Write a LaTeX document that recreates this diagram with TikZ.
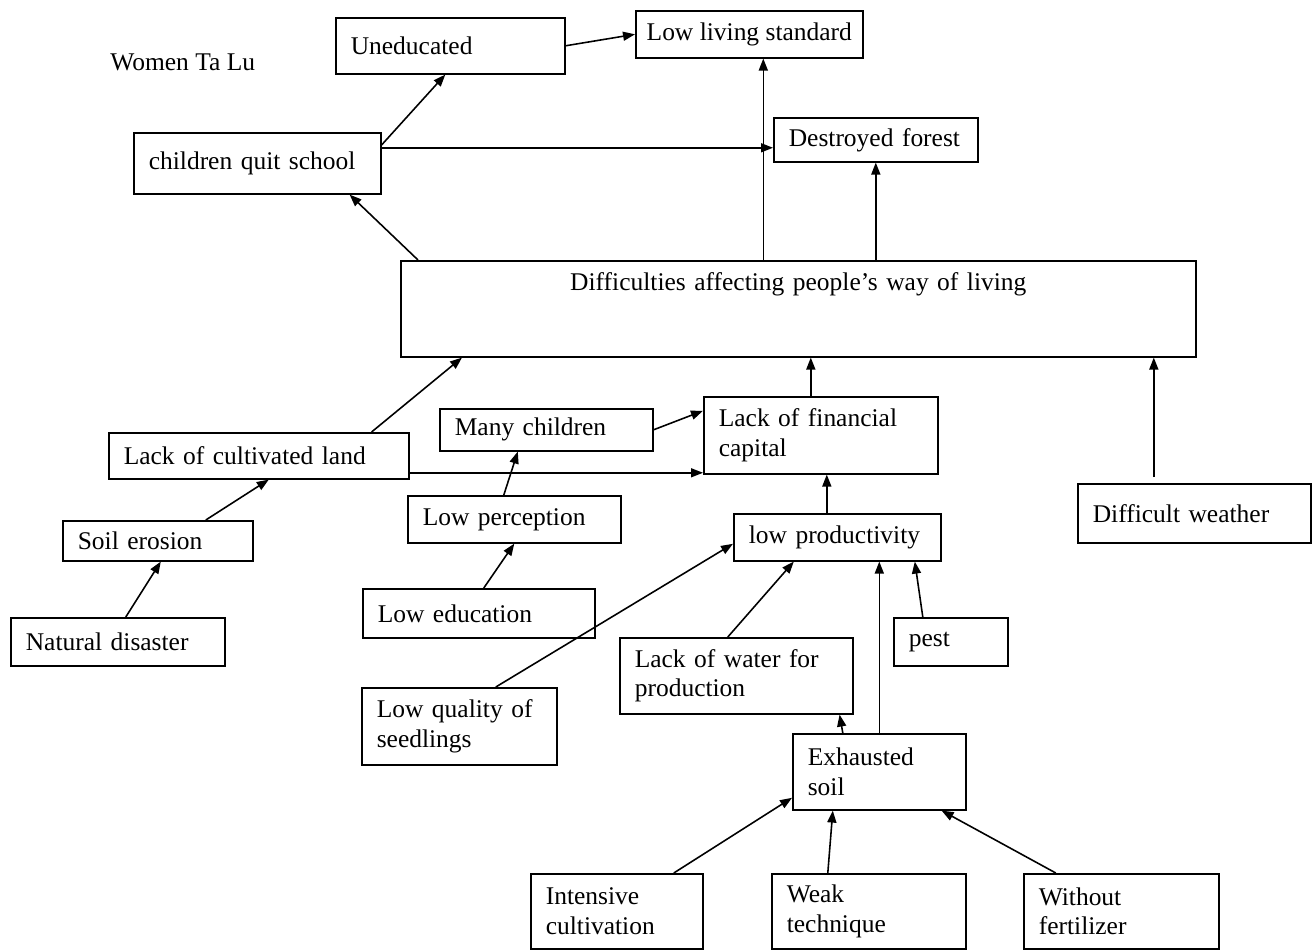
\documentclass[tikz,border=0pt]{standalone}
\usepackage{fontspec}
\setmainfont{Liberation Serif}
\usepackage{tikz}
\usetikzlibrary{arrows.meta}

\begin{document}
\begin{tikzpicture}[
    box/.style = {rectangle, draw, line width=0.9pt, anchor=north west, align=left, inner xsep=0.3cm, font=\fontsize{14.5}{17}\selectfont},
    arrow/.style = {-{Triangle[length=0.24cm, width=0.18cm]}, line width=0.9pt}
]
    \useasboundingbox (0,0) rectangle (26.28,-19);

    % Title
    \node [anchor=west, inner sep=0, font=\fontsize{14.5}{17}\selectfont] (title) at (2.20,-1.24) {Women Ta Lu};

    % Top row
    \node [box, text width=3.98cm, minimum height=1.12cm] (uneducated) at (6.70,-0.34) {Uneducated};
    \node [box, inner xsep=0.15cm, minimum width=4.54cm, minimum height=0.94cm] (living) at (12.70,-0.20) {Low living standard};
    \node [box, text width=4.34cm, minimum height=1.22cm] (quit) at (2.66,-2.64) {children quit school};
    \node [box, text width=3.48cm, minimum height=0.88cm] (forest) at (15.46,-2.34) {Destroyed forest};

    % Central problem
    \node [box, align=center, text width=15.30cm, minimum height=1.92cm, text height=0.35cm, text depth=1.07cm] (difficulties) at (8.00,-5.20) {Difficulties affecting people's way of living};

    % Causes
    \node [box, text width=4.08cm, minimum height=1.54cm] (fincap) at (14.06,-7.92) {Lack of financial\\capital};
    \node [box, text width=3.66cm, minimum height=0.84cm] (manychild) at (8.78,-8.16) {Many children};
    \node [box, text width=5.40cm, minimum height=0.92cm] (cultland) at (2.16,-8.64) {Lack of cultivated land};
    \node [box, text width=3.66cm, minimum height=0.94cm] (perception) at (8.14,-9.90) {Low perception};
    \node [box, text width=3.54cm, minimum height=0.94cm] (productivity) at (14.66,-10.26) {low productivity};
    \node [box, text width=3.20cm, minimum height=0.80cm] (erosion) at (1.24,-10.40) {Soil erosion};
    \node [box, text width=4.06cm, minimum height=1.18cm] (weather) at (21.54,-9.66) {Difficult weather};
    \node [box, text width=4.04cm, minimum height=0.98cm] (education) at (7.24,-11.76) {Low education};
    \node [box, text width=3.68cm, minimum height=0.96cm] (disaster) at (0.20,-12.34) {Natural disaster};
    \node [box, text width=1.68cm, minimum height=0.96cm] (pest) at (17.86,-12.34) {pest};
    \node [box, text width=4.06cm, minimum height=1.52cm] (water) at (12.38,-12.74) {Lack of water for\\production};
    \node [box, text width=3.30cm, minimum height=1.54cm] (seedlings) at (7.22,-13.74) {Low quality of\\seedlings};
    \node [box, text width=2.86cm, minimum height=1.52cm] (exhausted) at (15.84,-14.66) {Exhausted\\soil};
    \node [box, text width=2.84cm, minimum height=1.50cm] (intensive) at (10.60,-17.46) {Intensive\\cultivation};
    \node [box, text width=3.28cm, minimum height=1.50cm] (weak) at (15.42,-17.46) {Weak\\technique};
    \node [box, text width=3.30cm, minimum height=1.50cm] (fertilizer) at (20.46,-17.46) {Without\\fertilizer};

    % Connections
    \draw [arrow] (uneducated.east) -- (living.west);
    \draw [arrow] ([yshift=-0.26cm]quit.north east) -- ([xshift=-0.1cm]uneducated.south);
    \draw [arrow] ([yshift=0.31cm]quit.east) -- ([yshift=0.31cm]quit.east -| forest.west);
    \draw [arrow] ([xshift=0.36cm]difficulties.north west) -- ([xshift=-0.64cm]quit.south east);
    \draw [arrow] ([xshift=-0.70cm]difficulties.north) -- ([xshift=-0.70cm]difficulties.north |- living.south);
    \draw [arrow] (forest.south |- difficulties.north) -- (forest.south);
    \draw [arrow] ([xshift=-0.76cm]cultland.north east) -- ([xshift=1.24cm]difficulties.south west);
    \draw [arrow] ([xshift=-0.2cm]fincap.north) -- ([xshift=-0.2cm]fincap.north |- difficulties.south);
    \draw [arrow] ([xshift=-0.81cm, yshift=0.12cm]weather.north) -- ([xshift=-0.81cm]weather.north |- difficulties.south);
    \draw [arrow] (manychild.east) -- ([yshift=0.49cm]fincap.west);
    \draw [arrow] ([yshift=-0.34cm]cultland.east) -- ([yshift=-0.34cm]cultland.east -| fincap.west);
    \draw [arrow] ([xshift=-0.21cm]perception.north) -- ([xshift=-0.57cm]manychild.south);
    \draw [arrow] ([xshift=0.1cm]education.north) -- (perception.south);
    \draw [arrow] ([xshift=0.96cm]erosion.north) -- ([xshift=0.2cm]cultland.south);
    \draw [arrow] ([xshift=0.16cm]disaster.north) -- ([xshift=0.06cm]erosion.south);
    \draw [arrow] ([xshift=-0.21cm]productivity.north) -- ([xshift=-0.21cm]productivity.north |- fincap.south);
    \draw [arrow] ([xshift=0.73cm]seedlings.north) -- ([yshift=-0.13cm]productivity.west);
    \draw [arrow] ([xshift=-0.17cm]water.north) -- ([xshift=-0.87cm]productivity.south);
    \draw [arrow] (exhausted.north) -- (exhausted.north |- productivity.south);
    \draw [arrow] ([xshift=-0.56cm]pest.north) -- ([xshift=1.55cm]productivity.south);
    \draw [arrow] ([xshift=-0.73cm]exhausted.north) -- ([xshift=-0.28cm]water.south east);
    \draw [arrow] ([xshift=1.14cm]intensive.north) -- ([yshift=-0.52cm]exhausted.west);
    \draw [arrow] ([xshift=-0.82cm]weak.north) -- ([xshift=-0.93cm]exhausted.south);
    \draw [arrow] ([xshift=-1.31cm]fertilizer.north) -- ([xshift=-0.5cm]exhausted.south east);
\end{tikzpicture}
\end{document}
